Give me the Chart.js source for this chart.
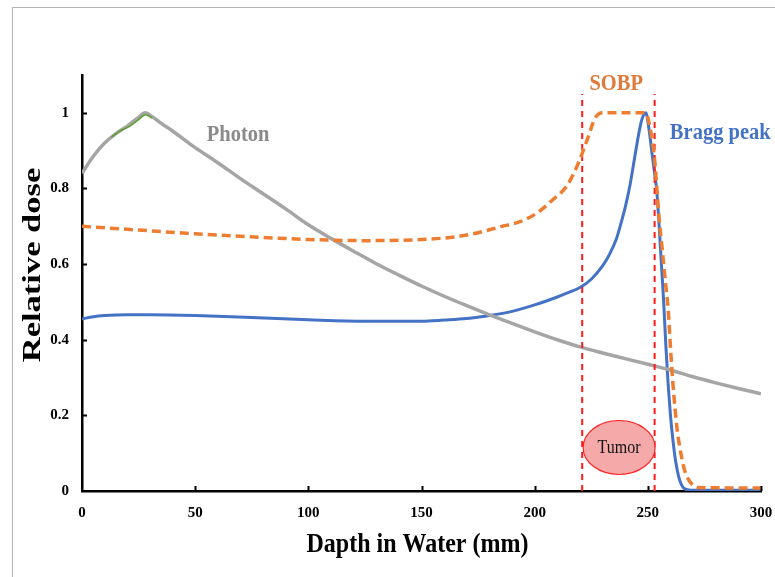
<!DOCTYPE html>
<html lang="en">
  <head>
    <meta charset="UTF-8" />
    <title>Relative dose vs depth</title>
    <style>
      body {
        margin: 0;
        padding: 0;
        background-color: #fff;
      }
      #wrap {
        position: relative;
        width: 775px;
        height: 577px;
        overflow: hidden;
      }
      #frame {
        position: absolute;
        left: 12px;
        top: 7px;
        width: 800px;
        height: 600px;
        border-top: 1px solid #b4b4b4;
        border-left: 1px solid #b4b4b4;
      }
      canvas {
        position: absolute;
        left: 0;
        top: 0;
      }
    </style>
  </head>
  <body>
    <div id="wrap">
      <div id="frame"></div>
      <canvas id="dose-chart" width="775" height="577"></canvas>
    </div>

    <script src="https://cdn.jsdelivr.net/npm/chart.js"></script>
    <script>
      // depth (mm) and relative dose
      var photonDepth = [0, 5, 10, 15, 20, 25, 28, 31, 35, 40, 50, 60, 70, 80, 90, 100, 110, 120, 130, 140, 150, 160, 170, 180, 190, 200, 210, 220, 230, 240, 250, 260, 270, 280, 290, 300];
      var photonDose = [0.84, 0.885, 0.92, 0.945, 0.965, 0.988, 1.0, 0.99, 0.972, 0.952, 0.908, 0.868, 0.826, 0.786, 0.746, 0.704, 0.668, 0.634, 0.601, 0.571, 0.542, 0.515, 0.49, 0.466, 0.443, 0.421, 0.4, 0.381, 0.365, 0.35, 0.335, 0.32, 0.302, 0.286, 0.271, 0.257];

      var greenDepth = [13, 17, 21, 25, 28, 31];
      var greenDose = [0.936, 0.953, 0.964, 0.982, 0.995, 0.986];

      var braggDepth = [0, 5, 10, 20, 30, 50, 75, 100, 125, 150, 160, 170, 180, 190, 200, 210, 215, 220, 225, 230, 233, 236, 238, 240, 242, 244, 246, 247.5, 249.2, 250, 251, 252, 253, 254, 255, 256, 257, 258, 259, 260, 261, 262, 263, 264, 265, 266, 268, 270, 300];
      var braggDose = [0.455, 0.461, 0.464, 0.466, 0.466, 0.464, 0.459, 0.453, 0.449, 0.449, 0.452, 0.456, 0.464, 0.475, 0.492, 0.513, 0.525, 0.538, 0.56, 0.595, 0.625, 0.665, 0.705, 0.75, 0.805, 0.875, 0.945, 0.985, 1.0, 0.978, 0.935, 0.885, 0.84, 0.79, 0.7, 0.6, 0.5, 0.38, 0.28, 0.2, 0.14, 0.09, 0.055, 0.03, 0.015, 0.007, 0.003, 0.002, 0.002];

      var sobpDepth = [0, 25, 50, 75, 100, 125, 150, 165, 175, 185, 193.5, 201, 208, 214, 218, 221, 223.7, 226.7, 230, 249, 251, 253, 254, 255, 256, 257, 258, 259, 260, 261, 262, 263, 264, 266, 268, 270, 272, 300];
      var sobpDose = [0.7, 0.69, 0.68, 0.672, 0.665, 0.662, 0.665, 0.672, 0.683, 0.699, 0.712, 0.735, 0.77, 0.805, 0.849, 0.893, 0.937, 0.986, 1.0, 1.0, 0.96, 0.876, 0.8, 0.72, 0.66, 0.6, 0.54, 0.48, 0.38, 0.29, 0.22, 0.16, 0.12, 0.06, 0.03, 0.015, 0.009, 0.008];

      var tumorEdges = [221, 253];
      var tumorLineTop = 1.05;
      var tumorCenter = [237.3, 0.115];

      var xTicks = [0, 50, 100, 150, 200, 250, 300];
      var yTicks = [0, 0.2, 0.4, 0.6, 0.8, 1];

      var xTitle = "Dapth in Water (mm)";
      var yTitle = "Relative dose";

      var curveLabels = [
        { text: "Photon", x: 69, y: 0.942, color: "#8a8a8a" },
        { text: "SOBP", x: 236, y: 1.077, color: "#e07a3a" },
        { text: "Bragg peak", x: 282, y: 0.947, color: "#4472c4" },
      ];

      function toPoints(xs, ys) {
        var pts = [];
        for (var i = 0; i < xs.length; i++) {
          pts.push({ x: xs[i], y: ys[i] });
        }
        return pts;
      }

      var serif = "'Liberation Serif', 'Times New Roman', serif";

      // text in the original is a bit stretched vertically
      function drawText(ctx, text, x, y, font, color, sx, sy, rot) {
        ctx.save();
        ctx.translate(x, y);
        if (rot) ctx.rotate(rot);
        ctx.scale(sx, sy);
        ctx.font = font;
        ctx.fillStyle = color;
        ctx.textAlign = "center";
        ctx.textBaseline = "middle";
        ctx.fillText(text, 0, 0);
        ctx.restore();
      }

      var extrasPlugin = {
        id: "extras",
        afterDraw: function (chart) {
          var ctx = chart.ctx;
          var xs = chart.scales.x;
          var ys = chart.scales.y;
          var area = chart.chartArea;
          ctx.save();

          // small inward tick marks
          ctx.strokeStyle = "#000";
          ctx.lineWidth = 2;
          yTicks.forEach(function (v) {
            if (v === 0) return;
            var py = Math.round(ys.getPixelForValue(v)) + 0.5;
            ctx.beginPath();
            ctx.moveTo(area.left, py);
            ctx.lineTo(area.left + 5, py);
            ctx.stroke();
          });
          xTicks.forEach(function (v) {
            if (v === 0) return;
            var px = Math.round(xs.getPixelForValue(v)) + 0.5;
            ctx.beginPath();
            ctx.moveTo(px, area.bottom);
            ctx.lineTo(px, area.bottom - 5);
            ctx.stroke();
          });

          // tumor ellipse
          var cx = xs.getPixelForValue(tumorCenter[0]);
          var cy = ys.getPixelForValue(tumorCenter[1]);
          ctx.beginPath();
          ctx.ellipse(cx, cy, 36, 27, 0, 0, Math.PI * 2);
          ctx.fillStyle = "#f5a9a9";
          ctx.fill();
          ctx.lineWidth = 1.2;
          ctx.strokeStyle = "#ff2020";
          ctx.stroke();
          ctx.restore();
          drawText(ctx, "Tumor", cx, cy + 1, "16px " + serif, "#111", 1, 1.12, 0);

          // curve names
          curveLabels.forEach(function (l) {
            drawText(ctx, l.text, xs.getPixelForValue(l.x), ys.getPixelForValue(l.y), "bold 20.5px " + serif, l.color, 1, 1.15, 0);
          });

          // axis titles
          drawText(ctx, xTitle, (area.left + area.right) / 2 - 4, 545, "bold 24px " + serif, "#000", 1, 1.12, 0);
          drawText(ctx, yTitle, 34, 265, "bold 25px " + serif, "#000", 1.38, 1, -Math.PI / 2);
        },
      };

      var ctx = document.getElementById("dose-chart").getContext("2d");
      var doseChart = new Chart(ctx, {
        type: "line",
        data: {
          datasets: [
            {
              label: "SOBP",
              data: toPoints(sobpDepth, sobpDose),
              borderColor: "#ed7d31",
              borderWidth: 3.5,
              borderDash: [9, 5],
              cubicInterpolationMode: "monotone",
            },
            {
              label: "Tumor start",
              data: toPoints([tumorEdges[0], tumorEdges[0]], [0, tumorLineTop]),
              borderColor: "#ff1a1a",
              borderWidth: 2,
              borderDash: [6, 5],
            },
            {
              label: "Tumor end",
              data: toPoints([tumorEdges[1], tumorEdges[1]], [0, tumorLineTop]),
              borderColor: "#ff1a1a",
              borderWidth: 2,
              borderDash: [6, 5],
            },
            {
              label: "Green",
              data: toPoints(greenDepth, greenDose),
              borderColor: "#5aa02c",
              borderWidth: 1.5,
              cubicInterpolationMode: "monotone",
            },
            {
              label: "Photon",
              data: toPoints(photonDepth, photonDose),
              borderColor: "#a5a5a5",
              borderWidth: 3.5,
              cubicInterpolationMode: "monotone",
            },
            {
              label: "Bragg peak",
              data: toPoints(braggDepth, braggDose),
              borderColor: "#4472c4",
              borderWidth: 3,
              cubicInterpolationMode: "monotone",
            },
          ],
        },
        options: {
          responsive: false,
          animation: false,
          elements: { point: { radius: 0 } },
          layout: { padding: { top: 75, right: 14, left: 0, bottom: 0 } },
          plugins: {
            legend: { display: false },
            tooltip: { enabled: false },
          },
          scales: {
            x: {
              type: "linear",
              min: 0,
              max: 300,
              afterFit: function (s) {
                s.height = 86;
                s.paddingLeft = 0;
                s.paddingRight = 0;
              },
              afterBuildTicks: function (s) {
                s.ticks = xTicks.map(function (v) {
                  return { value: v };
                });
              },
              grid: { display: false, drawTicks: false },
              border: { display: true, color: "#000", width: 2.5 },
              ticks: {
                padding: 13,
                maxRotation: 0,
                color: "#000",
                font: { family: serif, size: 15, weight: "bold" },
              },
            },
            y: {
              type: "linear",
              min: 0,
              max: 1.1,
              afterFit: function (s) {
                s.width = 82;
                s.paddingTop = 0;
                s.paddingBottom = 0;
              },
              afterBuildTicks: function (s) {
                s.ticks = yTicks.map(function (v) {
                  return { value: v };
                });
              },
              grid: { display: false, drawTicks: false },
              border: { display: true, color: "#000", width: 2.5 },
              ticks: {
                padding: 13,
                includeBounds: false,
                color: "#000",
                font: { family: serif, size: 15, weight: "bold" },
                callback: function (v) {
                  return String(Math.round(v * 10) / 10);
                },
              },
            },
          },
        },
        plugins: [extrasPlugin],
      });
    </script>
  </body>
</html>
